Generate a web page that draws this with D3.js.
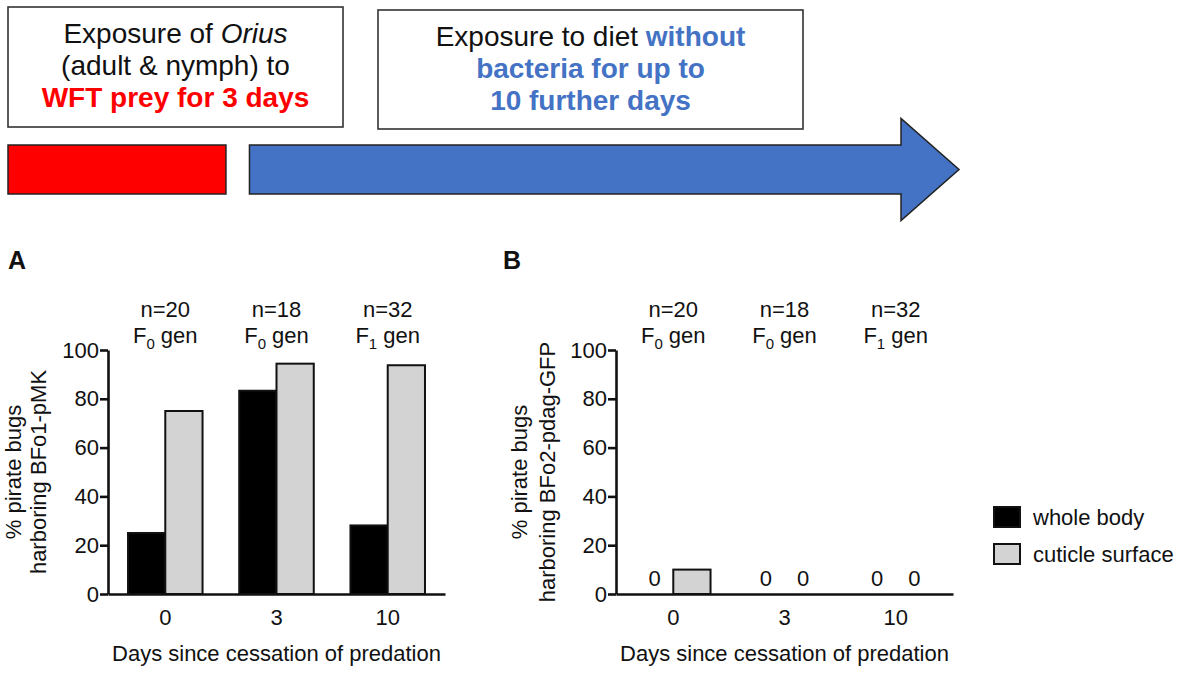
<!DOCTYPE html>
<html lang="en">
<head>
    <meta charset="UTF-8">
    <title>Orius exposure - bacteria retention</title>
    <style>
        * { margin: 0; padding: 0; box-sizing: border-box; }
        body { background: #fff; font-family: 'Liberation Sans', Arial, sans-serif; }
        svg text { font-family: 'Liberation Sans', Arial, sans-serif; fill: #111; }
        .axis path, .axis line { stroke: #111; stroke-width: 2.6; }
        .axis text { font-size: 22px; fill: #111; }
        .bar { stroke: #111; stroke-width: 2; }
    </style>
</head>
<body>
<div id="chart"></div>
<script src="https://d3js.org/d3.v7.min.js"></script>
<script>
    // categories and series
    const days = ["0", "3", "10"];
    const seriesNames = ["whole body", "cuticle surface"];
    const seriesColors = ["#000000", "#d3d3d3"];
    const sampleSizes = ["n=20", "n=18", "n=32"];
    const generations = ["0", "0", "1"];
    const yTicks = [0, 20, 40, 60, 80, 100];

    // % pirate bugs harboring the strain
    const wholeBodyA = [25, 83.3, 28.1];
    const cuticleA = [75, 94.4, 93.75];
    const wholeBodyB = [0, 0, 0];
    const cuticleB = [10, 0, 0];

    // timeline of the experiment (days relative to end of predation)
    const phaseStart = [-3, 0];
    const phaseEnd = [0, 10];
    const phaseColors = ["#ff0000", "#4472c4"];

    const W = 1181, H = 674;
    const FS = 22;
    const svg = d3.select("#chart").append("svg")
        .attr("width", W).attr("height", H);
    svg.append("rect").attr("width", W).attr("height", H).attr("fill", "#fff");

    // ---- top schematic ----
    const t = d3.scaleLinear().domain([-3, 10]).range([8, 959]);
    const gapAfterPrey = 22, headLen = 58, headHalf = 51;
    const barTop = 145, barBot = 194, barMid = (barTop + barBot) / 2;

    svg.append("rect")
        .attr("x", t(phaseStart[0])).attr("y", barTop)
        .attr("width", t(phaseEnd[0]) - t(phaseStart[0]) - 1.5)
        .attr("height", barBot - barTop)
        .attr("fill", phaseColors[0]).attr("stroke", "#222").attr("stroke-width", 1.5);

    const ax0 = t(phaseStart[1]) + gapAfterPrey, ax1 = t(phaseEnd[1]);
    svg.append("path")
        .attr("d", d3.line()([
            [ax0, barTop], [ax1 - headLen, barTop], [ax1 - headLen, barMid - headHalf],
            [ax1, barMid], [ax1 - headLen, barMid + headHalf], [ax1 - headLen, barBot],
            [ax0, barBot]
        ]) + "Z")
        .attr("fill", phaseColors[1]).attr("stroke", "#222").attr("stroke-width", 1.5);

    function box(x, y, w, h, lines) {
        svg.append("rect").attr("x", x).attr("y", y).attr("width", w).attr("height", h)
            .attr("fill", "#fff").attr("stroke", "#333").attr("stroke-width", 1.6);
        lines.forEach((parts, i) => {
            const txt = svg.append("text")
                .attr("x", x + w / 2).attr("y", y + 36 + i * 32)
                .attr("text-anchor", "middle").style("font-size", "28px");
            parts.forEach(p => {
                txt.append("tspan").text(p.s)
                    .style("fill", p.c || "#111")
                    .style("font-weight", p.b ? "bold" : "normal")
                    .style("font-style", p.i ? "italic" : "normal");
            });
        });
    }
    box(8, 7, 335, 120, [
        [{ s: "Exposure of " }, { s: "Orius", i: true }],
        [{ s: "(adult & nymph) to" }],
        [{ s: "WFT prey for 3 days", b: true, c: phaseColors[0] }]
    ]);
    box(378, 10, 425, 119, [
        [{ s: "Exposure to diet " }, { s: "without", b: true, c: phaseColors[1] }],
        [{ s: "bacteria for up to", b: true, c: phaseColors[1] }],
        [{ s: "10 further days", b: true, c: phaseColors[1] }]
    ]);

    // ---- bar panels ----
    const y = d3.scaleLinear().domain([0, 100]).range([594, 350]);

    function panel(letter, left, right, values, titleLines, titleX) {
        const x0 = d3.scaleBand().domain(days).range([left, right])
            .paddingInner(0.33).paddingOuter(0.18);
        const x1 = d3.scaleBand().domain(seriesNames).range([0, x0.bandwidth()]);

        svg.append("text").text(letter)
            .attr("x", left - (letter === "A" ? 100 : 113)).attr("y", 269)
            .style("font-size", "25px").style("font-weight", "bold");

        days.forEach((d, i) => {
            seriesNames.forEach((s, j) => {
                const v = values[j][i];
                const bx = x0(d) + x1(s);
                if (v > 0) {
                    svg.append("rect").attr("class", "bar")
                        .attr("x", bx).attr("y", y(v))
                        .attr("width", x1.bandwidth()).attr("height", y(0) - y(v))
                        .attr("fill", seriesColors[j]);
                } else {
                    svg.append("text").text("0")
                        .attr("x", bx + x1.bandwidth() / 2).attr("y", y(0) - 8)
                        .attr("text-anchor", "middle").style("font-size", FS + "px");
                }
            });
            const cx = x0(d) + x0.bandwidth() / 2;
            svg.append("text").text(sampleSizes[i])
                .attr("x", cx).attr("y", 317)
                .attr("text-anchor", "middle").style("font-size", FS + "px");
            const g = svg.append("text")
                .attr("x", cx).attr("y", 343)
                .attr("text-anchor", "middle").style("font-size", FS + "px");
            g.append("tspan").text("F");
            g.append("tspan").text(generations[i]).attr("dy", 6).style("font-size", "15px");
            g.append("tspan").text(" gen").attr("dy", -6);
        });

        svg.append("g").attr("class", "axis")
            .attr("transform", `translate(0,${y(0)})`)
            .call(d3.axisBottom(x0).tickSize(0).tickPadding(15).tickSizeOuter(0));

        svg.append("g").attr("class", "axis")
            .attr("transform", `translate(${left},0)`)
            .call(d3.axisLeft(y).tickValues(yTicks).tickSize(8).tickPadding(1).tickSizeOuter(0));

        svg.append("text").text("Days since cessation of predation")
            .attr("x", (left + right) / 2).attr("y", 661)
            .attr("text-anchor", "middle").style("font-size", FS + "px");

        titleLines.forEach((l, k) => {
            svg.append("text").text(l)
                .attr("transform", `translate(${titleX[k]},${(y(0) + y(100)) / 2}) rotate(-90)`)
                .attr("text-anchor", "middle").style("font-size", FS + "px");
        });
    }

    panel("A", 108, 445, [wholeBodyA, cuticleA],
        ["% pirate bugs", "harboring BFo1-pMK"], [21, 46]);
    panel("B", 616, 953, [wholeBodyB, cuticleB],
        ["% pirate bugs", "harboring BFo2-pdag-GFP"], [527, 555]);

    // ---- legend ----
    const legend = svg.append("g").attr("transform", "translate(994,507)");
    seriesNames.forEach((s, j) => {
        legend.append("rect").attr("class", "bar")
            .attr("x", 0).attr("y", j * 37).attr("width", 26).attr("height", 20)
            .attr("fill", seriesColors[j]);
        legend.append("text").text(s)
            .attr("x", 39).attr("y", j * 37 + 18)
            .style("font-size", FS + "px");
    });
</script>
</body>
</html>
